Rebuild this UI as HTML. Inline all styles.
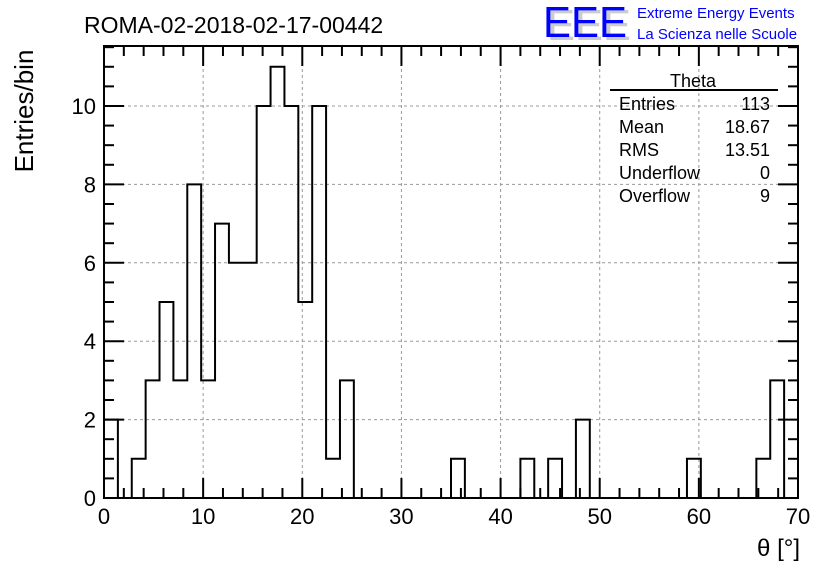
<!DOCTYPE html>
<html><head><meta charset="utf-8"><style>
body{margin:0;background:#fff;}
svg{display:block;font-family:"Liberation Sans",sans-serif;}
</style></head><body>
<svg id="c" width="836" height="572">
<text x="84" y="33" font-size="23">ROMA-02-2018-02-17-00442</text>
<g>
<text x="547" y="40" font-size="44" fill="#ccc" textLength="84" lengthAdjust="spacingAndGlyphs">EEE</text>
<text x="543" y="37" font-size="44" fill="#0000ff" textLength="84" lengthAdjust="spacingAndGlyphs">EEE</text>
<text x="637" y="18" font-size="15" fill="#0000ff">Extreme Energy Events</text>
<text x="637" y="39" font-size="15" fill="#0000ff">La Scienza nelle Scuole</text>
</g>
<g id="grid"></g>
<g id="axes"></g>
<path id="hist" fill="none" stroke="#000" stroke-width="2"/>
<rect x="104" y="46" width="694" height="452" fill="none" stroke="#000" stroke-width="2"/>
<g font-size="18">
<text x="693" y="87" text-anchor="middle">Theta</text>
<line x1="610" y1="90" x2="778" y2="90" stroke="#000" stroke-width="2"/>
<text x="619" y="110">Entries</text><text x="770" y="110" text-anchor="end">113</text>
<text x="619" y="133">Mean</text><text x="770" y="133" text-anchor="end">18.67</text>
<text x="619" y="156">RMS</text><text x="770" y="156" text-anchor="end">13.51</text>
<text x="619" y="179">Underflow</text><text x="770" y="179" text-anchor="end">0</text>
<text x="619" y="202">Overflow</text><text x="770" y="202" text-anchor="end">9</text>
</g>
<text x="33" y="111" font-size="26" transform="rotate(-90 33 111)" text-anchor="middle">Entries/bin</text>
<text x="800" y="556" font-size="24" text-anchor="end">θ [°]</text>
</svg>
<script>
const binWidth = 1.4;
const counts = [2,0,1,3,5,3,8,3,7,6,6,10,11,10,5,10,1,3,0,0,0,0,0,0,0,1,0,0,0,0,1,0,1,0,2,0,0,0,0,0,0,0,1,0,0,0,0,1,3,0];
const xTicks = [0,10,20,30,40,50,60,70];
const yTicks = [0,2,4,6,8,10];
const X0=104,X1=798,Y0=498,Y1=46, xMax=70, yMax=11.53;
const sx=v=>X0+(X1-X0)*v/xMax;
const sy=v=>Y0-(Y0-Y1)*v/yMax;
const NS="http://www.w3.org/2000/svg";
function mk(parent,tag,attrs){const e=document.createElementNS(NS,tag);for(const k in attrs)e.setAttribute(k,attrs[k]);parent.appendChild(e);return e;}
const grid=document.getElementById('grid'), axes=document.getElementById('axes');
xTicks.forEach(t=>{
  if(t>0&&t<70){const l=mk(grid,'line',{x1:sx(t),x2:sx(t),y1:Y0,y2:Y1,stroke:'#999','stroke-dasharray':'3,3'});
  
  }
  const tx=mk(axes,'text',{x:sx(t),y:524,'font-size':22,'text-anchor':'middle'});tx.textContent=t;
  
  
});
for(let v=0;v<=70;v+=2){const L=(v%10===0)?20:10;
  mk(axes,'line',{x1:sx(v),x2:sx(v),y1:Y0,y2:Y0-L,stroke:'#000','stroke-width':2});
  mk(axes,'line',{x1:sx(v),x2:sx(v),y1:Y1,y2:Y1+L,stroke:'#000','stroke-width':2});}
yTicks.forEach(t=>{
  if(t>0){const l=mk(grid,'line',{x1:X0,x2:X1,y1:sy(t),y2:sy(t),stroke:'#999','stroke-dasharray':'3,3'});
  
  }
  const tx=mk(axes,'text',{x:96,y:sy(t)+8,'font-size':22,'text-anchor':'end'});tx.textContent=t;
  
  
});
for(let v=0;v<=11.5;v+=0.5){const L=(v%2===0)?20:10;
  mk(axes,'line',{x1:X0,x2:X0+L,y1:sy(v),y2:sy(v),stroke:'#000','stroke-width':2});
  mk(axes,'line',{x1:X1,x2:X1-L,y1:sy(v),y2:sy(v),stroke:'#000','stroke-width':2});}
let d='M'+sx(0)+','+sy(0);
counts.forEach((c,i)=>{d+=' L'+sx(i*binWidth)+','+sy(c)+' L'+sx((i+1)*binWidth)+','+sy(c);});
d+=' L'+sx(counts.length*binWidth)+','+sy(0);
document.getElementById('hist').setAttribute('d',d);
</script>
</body></html>
